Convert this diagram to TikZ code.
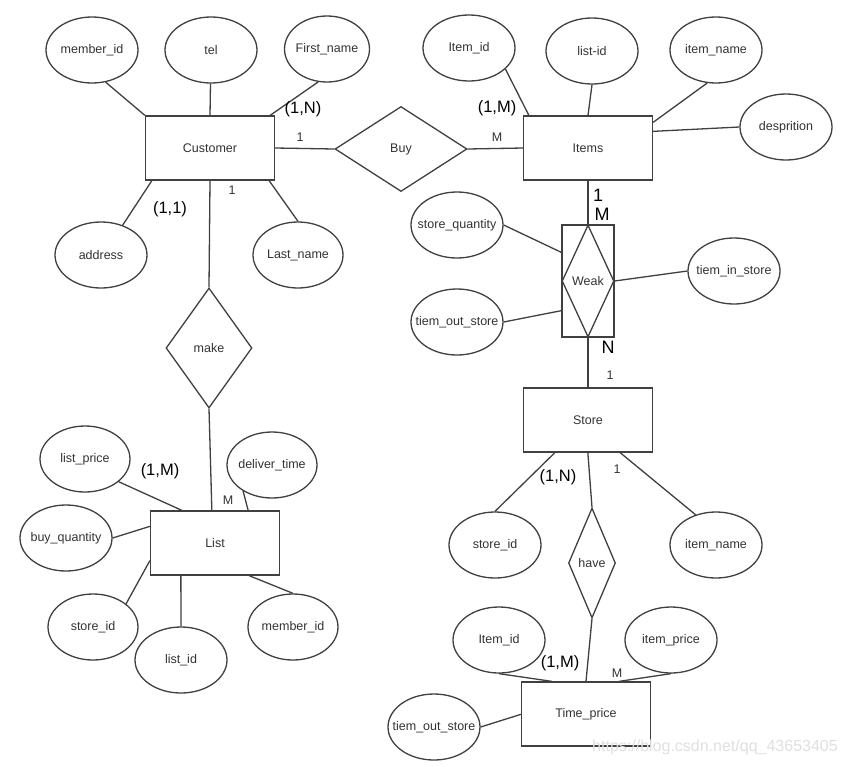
\documentclass[tikz,border=0pt]{standalone}
\usepackage{fontspec}
\setmainfont{Liberation Sans}
\usetikzlibrary{shapes.geometric}

\begin{document}
\begin{tikzpicture}[x=1pt,y=-1pt,line width=1.3pt,
    attr/.style={draw=black!75,ellipse,minimum width=92pt,minimum height=66pt,inner sep=0pt},
    entity/.style={draw=black!75,rectangle,minimum width=129pt,minimum height=64pt,inner sep=0pt,
        text=black!80,font=\fontsize{12.5}{15}\selectfont},
    rel/.style={draw=black!75,diamond,inner sep=0pt,text=black!80,font=\fontsize{12.5}{15}\selectfont},
    every label/.style={text=black!80,font=\fontsize{12.5}{15}\selectfont},
    big/.style={text=black,inner sep=0pt,font=\fontsize{16.5}{18}\selectfont},
    small/.style={text=black!80,inner sep=0pt,font=\fontsize{12.5}{15}\selectfont},
    link/.style={draw=black!75}]
    % page, 846 x 766
    \fill[white] (0,0) rectangle (846,766);
    \useasboundingbox (0,0) rectangle (846,766);

    % Customer and its attributes
    \node[entity] (cust) at (210,148) {Customer};
    \node[attr,label=center:member\_id] (cmember) at (92,50) {};
    \node[attr,label=center:tel] (ctel) at (211,50) {};
    \node[attr,minimum width=85pt,label=center:First\_name] (cfirst) at (327,49) {};
    \node[attr,label=center:address] (caddr) at (101,255) {};
    \node[attr,minimum width=90pt,label=center:Last\_name] (clast) at (298,255) {};
    \draw[link] (cmember.293) -- (cust.north west);
    \draw[link] (ctel) -- (cust.north);
    \draw[link] (cfirst.255) -- ([xshift=-5pt]cust.north east);
    \draw[link] (caddr.54) -- ([xshift=7pt]cust.south west);
    \draw[link] (clast.north) -- ([xshift=-6pt]cust.south east);
    \node[big] (nfirst) at (303,109) {(1,N)};
    \node[big] (naddr) at (170,209) {(1,1)};

    % Buy between Customer and Items
    \node[rel,minimum width=132pt,minimum height=85pt] (buy) at (401,149) {Buy};
    \node[entity] (items) at (588,148) {Items};
    \draw[link] (cust.east) -- (buy.west);
    \draw[link] (buy.east) -- (items.west);
    \node[small] (nbuyc) at (300,137) {1};
    \node[small] (nbuyi) at (497,137) {M};

    % Items attributes
    \node[attr,label=center:Item\_id] (iid) at (469,48) {};
    \node[attr,label=center:list-id] (ilist) at (592,51) {};
    \node[attr,label=center:item\_name] (iname) at (716,50) {};
    \node[attr,label=center:desprition] (idesc) at (786,127) {};
    \draw[link] (iid.330) -- ([xshift=6pt]items.north west);
    \draw[link] (ilist.south) -- (items.north);
    \draw[link] (iname.255) -- ([yshift=-7pt]items.north east);
    \draw[link] (idesc.west) -- ([yshift=-16pt]items.north east);
    \node[big] (niid) at (497,108) {(1,M)};

    % weak relation, box with diamond inside
    \node[draw=black!75,minimum width=52pt,minimum height=112pt,inner sep=0pt] (weak) at (588,281) {};
    \node[rel,minimum width=52pt,minimum height=112pt] (weakd) at (588,281) {Weak};
    \node[attr,label=center:store\_quantity] (wsq) at (457,225) {};
    \node[attr,label=center:tiem\_out\_store] (wout) at (457,322) {};
    \node[attr,label=center:tiem\_in\_store] (win) at (734,271) {};
    \draw[link] (items.south) -- (weak.north);
    \draw[link] (wsq.east) -- ([yshift=-28pt]weak.north west);
    \draw[link] (wout.east) -- ([yshift=27pt]weak.south west);
    \draw[link] (weakd.east) -- (win.west);
    \node[big,font=\fontsize{18}{20}\selectfont] (nwi1) at (598,195) {1};
    \node[big,font=\fontsize{18}{20}\selectfont] (nwim) at (602,214) {M};
    \node[big,font=\fontsize{18}{20}\selectfont] (nwsn) at (608,347) {N};

    % Store and its attributes
    \node[entity] (store) at (588,420) {Store};
    \node[attr,label=center:store\_id] (sid) at (495,545) {};
    \node[attr,label=center:item\_name] (sname) at (716,545) {};
    \draw[link] (weak.south) -- (store.north);
    \draw[link] ([xshift=32pt]store.south west) -- (sid.north);
    \draw[link] ([xshift=-33pt]store.south east) -- (sname.124);
    \node[small] (nws1) at (610,375) {1};
    \node[big] (nsid) at (558,477) {(1,N)};
    \node[small] (nsname) at (617,469) {1};

    % have between Store and Time_price
    \node[rel,minimum width=47pt,minimum height=110pt] (have) at (592,563) {have};
    \node[entity] (tp) at (586,714) {Time\_price};
    \draw[link] ([xshift=65pt]store.south west) -- (have.north);
    \draw[link] (have.south) -- (tp.north);

    % Time_price attributes
    \node[attr,label=center:Item\_id] (tid) at (499,640) {};
    \node[attr,label=center:item\_price] (tprice) at (671,640) {};
    \node[attr,label=center:tiem\_out\_store] (tout) at (434,727) {};
    \draw[link] (tid.south) -- ([xshift=31pt]tp.north west);
    \draw[link] (tprice.south) -- ([xshift=-32pt]tp.north east);
    \draw[link] (tout.east) -- ([yshift=-33pt]tp.north west);
    \node[big] (ntid) at (560,663) {(1,M)};
    \node[small] (ntprice) at (617,673) {M};

    % make between Customer and List
    \node[rel,minimum width=86pt,minimum height=120pt] (make) at (209,348) {make};
    \node[entity] (list) at (215,543) {List};
    \draw[link] (cust.south) -- (make.north);
    \draw[link] (make.south) -- ([xshift=62pt]list.north west);
    \node[small] (nmakec) at (232,190) {1};
    \node[small] (nmakel) at (228,500) {M};

    % List attributes
    \node[attr,minimum width=90pt,label=center:list\_price] (lprice) at (85,459) {};
    \node[attr,minimum width=90pt,label=center:deliver\_time] (ldeliv) at (272,465) {};
    \node[attr,label=center:buy\_quantity] (lbuy) at (66,538) {};
    \node[attr,minimum width=90pt,label=center:store\_id] (lsid) at (93,627) {};
    \node[attr,label=center:list\_id] (llid) at (181,660) {};
    \node[attr,minimum width=90pt,label=center:member\_id] (lmid) at (293,627) {};
    \draw[link] (lprice.326) -- ([xshift=32pt]list.north west);
    \draw[link] (ldeliv.222) -- ([xshift=-32pt]list.north east);
    \draw[link] (lbuy.east) -- ([yshift=-16pt]list.north west);
    \draw[link] (lsid.35) -- ([yshift=15pt]list.south west);
    \draw[link] (llid.north) -- ([xshift=31pt]list.south west);
    \draw[link] (lmid.north) -- ([xshift=-31pt]list.south east);
    \node[big] (nlprice) at (160,471) {(1,M)};

    % watermark
    \node[text=black!12,inner sep=0pt,font=\fontsize{16}{18}\selectfont] (mark) at (715,747) {https://blog.csdn.net/qq\_43653405};
\end{tikzpicture}
\end{document}
